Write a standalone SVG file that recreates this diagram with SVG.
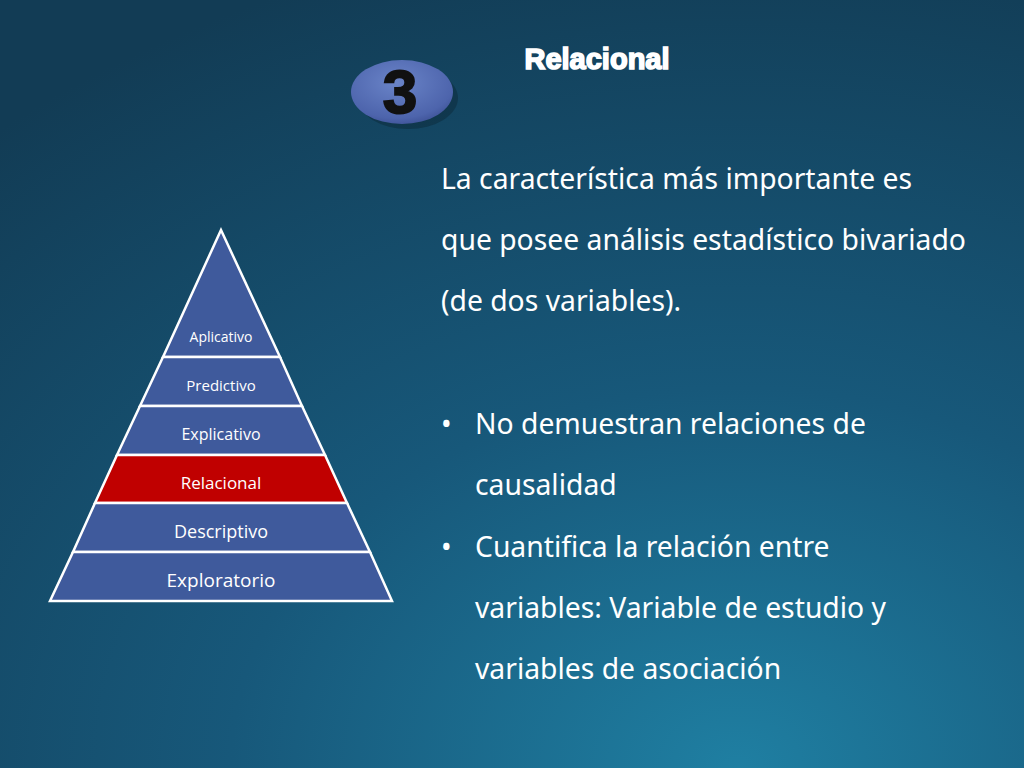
<svg xmlns="http://www.w3.org/2000/svg" width="1024" height="768" viewBox="0 0 1024 768">
<defs>
<radialGradient id="bg" cx="0.72" cy="1.0" r="1.1">
<stop offset="0" stop-color="#1f7fa2"/>
<stop offset="0.45" stop-color="#17587a"/>
<stop offset="1" stop-color="#123c55"/>
</radialGradient>
<radialGradient id="oval" cx="0.45" cy="0.35" r="0.7">
<stop offset="0" stop-color="#6a84c8"/>
<stop offset="0.8" stop-color="#4d64ac"/>
<stop offset="1" stop-color="#3c5094"/>
</radialGradient>
<style>
.lay{fill:#3f5a9c;stroke:#ffffff;stroke-width:2.5}
.red{fill:#c00000;stroke:#ffffff;stroke-width:2.5}
.pl{fill:#ffffff;font-family:"Open Sans",sans-serif;text-anchor:middle}
.bt{fill:#ffffff;font-family:"Noto Sans",sans-serif;font-size:28.3px}
</style>
</defs>
<rect width="1024" height="768" fill="url(#bg)"/>
<g id="badge">
<ellipse cx="404" cy="94" rx="50" ry="31" fill="#0b2a3a" opacity="0.5" transform="translate(4,4)"/>
<ellipse cx="402" cy="92" rx="51" ry="32" fill="url(#oval)"/>
<text x="400" y="113" font-family="Liberation Sans,sans-serif" font-weight="bold" font-size="62" text-anchor="middle" fill="#111" stroke="#111" stroke-width="2">3</text>
</g>
<text id="title" x="597" y="69" font-family="Liberation Sans,sans-serif" font-weight="bold" font-size="29" text-anchor="middle" fill="#fff" stroke="#fff" stroke-width="1.6">Relacional</text>
<g id="pyramid">
<g id="aplicativo"><polygon class="lay" points="221,230 280,357 163,357"/><text class="pl" x="221" y="342" font-size="14">Aplicativo</text></g>
<g id="predictivo"><polygon class="lay" points="163,357 280,357 302,406 140,406"/><text class="pl" x="221" y="391" font-size="15">Predictivo</text></g>
<g id="explicativo"><polygon class="lay" points="140,406 302,406 325,455 117,455"/><text class="pl" x="221" y="440" font-size="16">Explicativo</text></g>
<g id="relacional"><polygon class="red" points="117,455 325,455 347,503 95,503"/><text class="pl" x="221" y="489" font-size="17">Relacional</text></g>
<g id="descriptivo"><polygon class="lay" points="95,503 347,503 370,552 73,552"/><text class="pl" x="221" y="538" font-size="18">Descriptivo</text></g>
<g id="exploratorio"><polygon class="lay" points="73,552 370,552 392,601 50,601"/><text class="pl" x="221" y="587" font-size="19">Exploratorio</text></g>
</g>
<g id="body">
<text class="bt" x="441" y="189">La característica más importante es</text>
<text class="bt" x="441" y="250">que posee análisis estadístico bivariado</text>
<text class="bt" x="441" y="311">(de dos variables).</text>
<text class="bt" x="441" y="434">•</text>
<text class="bt" x="475" y="434">No demuestran relaciones de</text>
<text class="bt" x="475" y="495">causalidad</text>
<text class="bt" x="441" y="557">•</text>
<text class="bt" x="475" y="557">Cuantifica la relación entre</text>
<text class="bt" x="475" y="618">variables: Variable de estudio y</text>
<text class="bt" x="475" y="679">variables de asociación</text>
</g>
</svg>
